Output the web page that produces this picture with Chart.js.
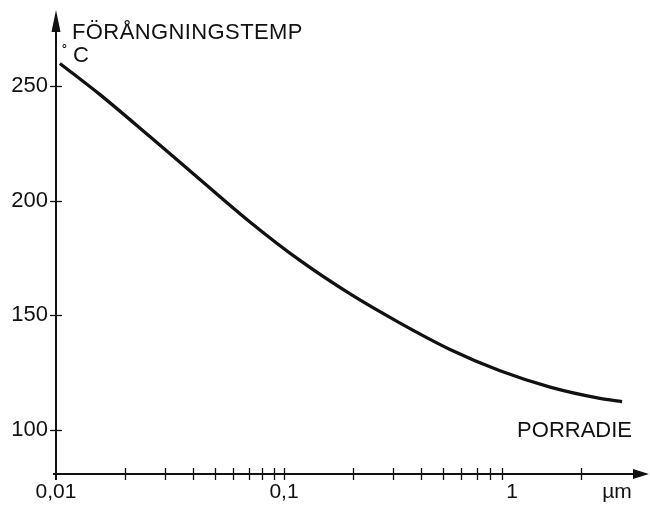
<!DOCTYPE html>
<html>
<head>
<meta charset="utf-8">
<script src="https://cdn.jsdelivr.net/npm/chart.js@4.4.1/dist/chart.umd.min.js"></script>
<style>
  body { margin: 0; background: #fff; }
  canvas { display: block; }
</style>
</head>
<body>
<canvas id="myChart" width="650" height="505"></canvas>
<script>
// pore radius (µm) against evaporation temperature (°C)
const radius = [0.0104, 0.0156, 0.0258, 0.0428, 0.0709, 0.1175, 0.195, 0.323,
  0.535, 0.886, 1.47, 2.43, 3.04];
const temp = [259.8, 246.2, 227.9, 209.2, 190.7, 173.9, 159.3, 146.6,
  135.1, 125.8, 118.7, 113.8, 112.4];

const xTickValues = [0.01, 0.1, 1, 2.89];
const xTickLabels = ['0,01', '0,1', '1', 'µm'];
const xMinorTicks = [0.02, 0.03, 0.04, 0.05, 0.06, 0.07, 0.08, 0.09,
  0.1, 0.2, 0.3, 0.4, 0.5, 0.6, 0.7, 0.8, 0.9, 2];
const yTickValues = [100, 150, 200, 250];

const yTitle = 'FÖRÅNGNINGSTEMP';
const yUnit = 'C';
const xTitle = 'PORRADIE';

const ink = '#111';
const font = '"Liberation Sans", Arial, sans-serif';

// axis lines with arrow heads, crossing tick marks and axis titles
const axisArrows = {
  id: 'axisArrows',
  afterDraw(chart) {
    const {ctx, chartArea: a, scales: {x, y}} = chart;
    ctx.save();
    ctx.strokeStyle = ink;
    ctx.fillStyle = ink;

    ctx.lineWidth = 2;
    ctx.beginPath();
    ctx.moveTo(a.left, a.bottom + 6);
    ctx.lineTo(a.left, a.top + 12);
    ctx.stroke();
    ctx.beginPath();
    ctx.moveTo(a.left, a.top);
    ctx.lineTo(a.left - 4.5, a.top + 22);
    ctx.lineTo(a.left + 4.5, a.top + 22);
    ctx.closePath();
    ctx.fill();

    ctx.beginPath();
    ctx.moveTo(a.left - 3, a.bottom);
    ctx.lineTo(a.right - 10, a.bottom);
    ctx.stroke();
    ctx.beginPath();
    ctx.moveTo(a.right + 1, a.bottom);
    ctx.lineTo(a.right - 15, a.bottom - 5);
    ctx.lineTo(a.right - 15, a.bottom + 5);
    ctx.closePath();
    ctx.fill();

    ctx.lineWidth = 1.3;
    xMinorTicks.forEach((v) => {
      const px = Math.round(x.getPixelForValue(v)) + 0.5;
      ctx.beginPath();
      ctx.moveTo(px, a.bottom - 6);
      ctx.lineTo(px, a.bottom + 6);
      ctx.stroke();
    });
    yTickValues.forEach((v) => {
      const py = Math.round(y.getPixelForValue(v)) + 0.5;
      ctx.beginPath();
      ctx.moveTo(a.left - 6, py);
      ctx.lineTo(a.left + 6, py);
      ctx.stroke();
    });

    ctx.textBaseline = 'middle';
    ctx.textAlign = 'left';
    ctx.font = `22px ${font}`;
    ctx.letterSpacing = '0.4px';
    ctx.fillText(yTitle, a.left + 16, a.top + 23);
    ctx.letterSpacing = '0px';
    ctx.fillText(yUnit, a.left + 17, a.top + 46);
    ctx.font = `bold 12px ${font}`;
    ctx.fillText('°', a.left + 6, a.top + 40);
    ctx.font = `22px ${font}`;
    ctx.textAlign = 'right';
    ctx.fillText(xTitle, a.right - 16, a.bottom - 43);
    ctx.restore();
  }
};

new Chart(document.getElementById('myChart'), {
  type: 'line',
  data: {
    datasets: [{
      data: radius.map((r, i) => ({x: r, y: temp[i]})),
      borderColor: ink,
      borderWidth: 3.3,
      pointRadius: 0,
      fill: false,
      cubicInterpolationMode: 'monotone'
    }]
  },
  options: {
    responsive: false,
    animation: false,
    devicePixelRatio: 1,
    layout: {padding: {top: 10, right: 2, left: 0, bottom: 0}},
    plugins: {
      legend: {display: false},
      tooltip: {enabled: false}
    },
    scales: {
      x: {
        type: 'logarithmic',
        min: 0.01,
        max: 3.95,
        afterFit: (s) => { s.height = 31; },
        afterBuildTicks: (s) => { s.ticks = xTickValues.map((v) => ({value: v})); },
        grid: {display: false, drawTicks: false},
        border: {display: false},
        ticks: {
          autoSkip: false,
          maxRotation: 0,
          padding: 6,
          color: ink,
          font: {family: font, size: 21},
          callback: (v, i) => xTickLabels[i]
        }
      },
      y: {
        min: 80.8,
        max: 283.1,
        afterFit: (s) => {
          s.width = 56;
          s.paddingTop = 0;
          s.paddingBottom = 0;
        },
        afterBuildTicks: (s) => { s.ticks = yTickValues.map((v) => ({value: v})); },
        grid: {display: false, drawTicks: false},
        border: {display: false},
        ticks: {
          padding: 8,
          color: ink,
          font: {family: font, size: 22}
        }
      }
    }
  },
  plugins: [axisArrows]
});
</script>
</body>
</html>
